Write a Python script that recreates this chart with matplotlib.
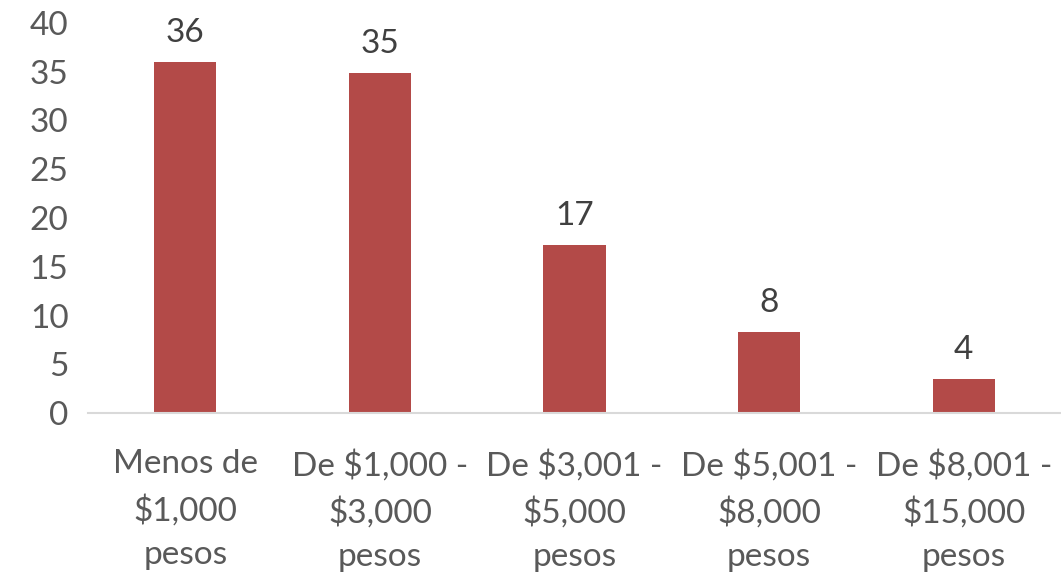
import numpy as np
import matplotlib.pyplot as plt

# ingreso mensual
categorias = ["Menos de\n$1,000\npesos", "De $1,000 -\n$3,000\npesos",
              "De $3,001 -\n$5,000\npesos", "De $5,001 -\n$8,000\npesos",
              "De $8,001 -\n$15,000\npesos"]
valores = [36.0, 34.9, 17.2, 8.3, 3.5]
yticks = [0, 5, 10, 15, 20, 25, 30, 35, 40]

plt.rcParams['font.family'] = ['Lato', 'DejaVu Sans']

fig = plt.figure(figsize=(10.61, 5.73), dpi=100)
ax = fig.add_axes([88/1061, 1 - 413/573, 1 - 88/1061, (413 - 23)/573])

x = np.arange(len(categorias))
bars = ax.bar(x, valores, width=0.32, color='#B34A48', zorder=2)

for xi, v in zip(x, valores):
    ax.text(xi, v + 1.45, f"{v:.0f}", ha='center', va='bottom',
            fontsize=24, color='#404040')

ax.set_xlim(-0.5, len(categorias) - 0.5)
ax.set_ylim(0, 40)
ax.set_yticks(yticks)
ax.set_xticks(x)
ax.set_xticklabels(categorias, fontsize=24, color='#595959', linespacing=1.58)
ax.tick_params(axis='y', labelsize=24, labelcolor='#595959', length=0, pad=14)
ax.tick_params(axis='x', length=0, pad=26)

for s in ['top', 'right', 'left']:
    ax.spines[s].set_visible(False)
ax.spines['bottom'].set_color('#D9D9D9')
ax.spines['bottom'].set_linewidth(1.5)

fig.savefig('out.png', dpi=100)
